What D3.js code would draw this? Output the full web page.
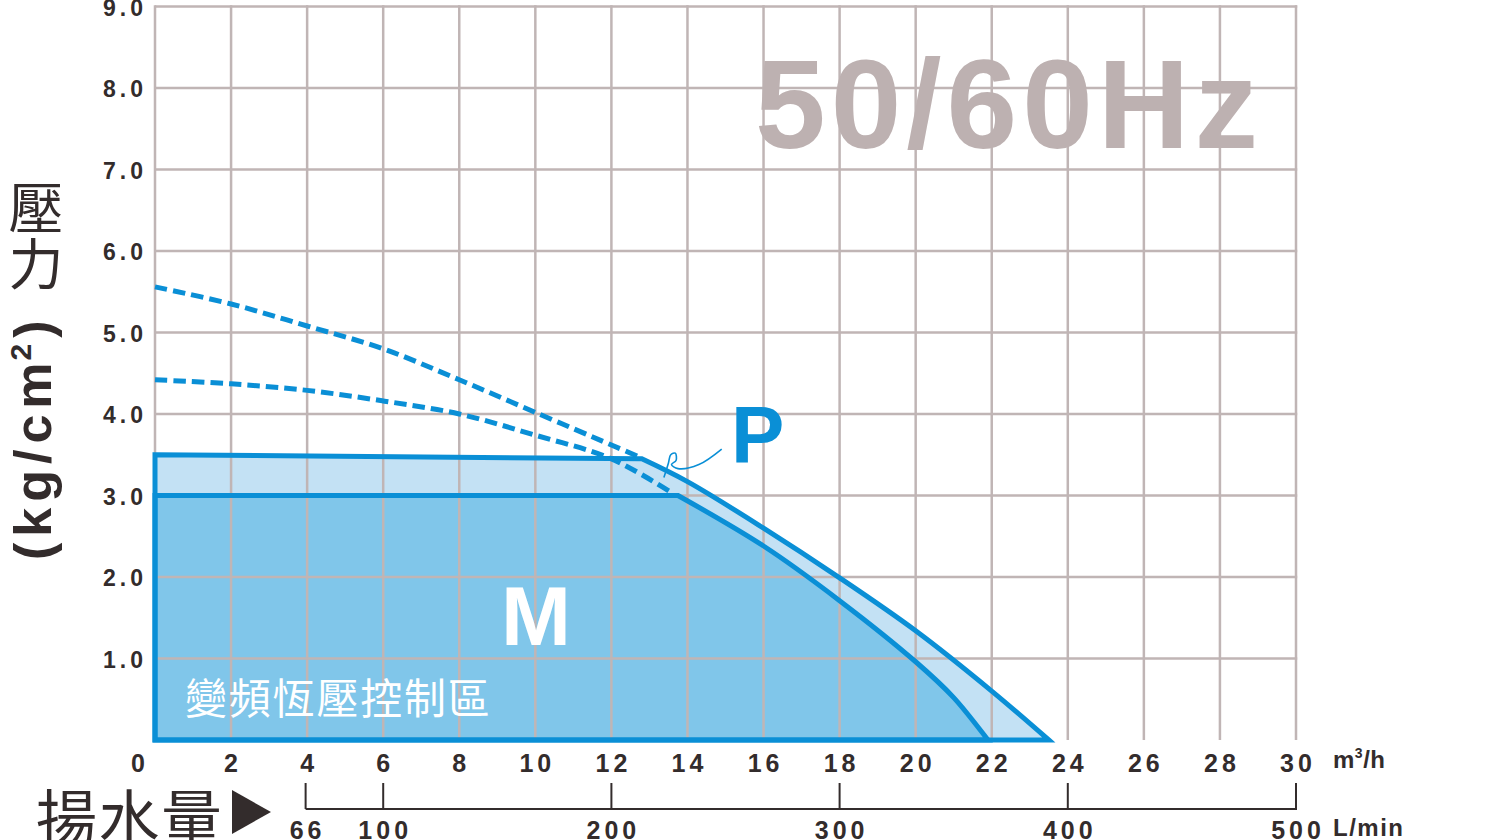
<!DOCTYPE html>
<html>
<head>
<meta charset="utf-8">
<script src="https://cdn.jsdelivr.net/npm/d3@7"></script>
<style>
  body { margin:0; background:#fff; }
  svg { display:block; }
  .num { font-family:"Liberation Sans", Arial, sans-serif; font-weight:bold; fill:#332c2c; }
  .cjk { font-family:"Noto Sans CJK TC", "Noto Sans CJK SC", sans-serif; }
</style>
</head>
<body>
<script>
// axis ticks
var flowTicks = [0, 2, 4, 6, 8, 10, 12, 14, 16, 18, 20, 22, 24, 26, 28, 30];
var pressureTicks = [1, 2, 3, 4, 5, 6, 7, 8, 9];
var pressureLabels = ["1.0", "2.0", "3.0", "4.0", "5.0", "6.0", "7.0", "8.0", "9.0"];
var lpmTicks = [66, 100, 200, 300, 400, 500];

// pump curves [m3/h, kg/cm2]
var curveP = [[0, 3.5], [12.8, 3.45], [14, 3.17], [16, 2.6], [18, 1.99], [20, 1.34], [22, 0.6], [23.5, 0]];
var curveM = [[0, 3.0], [13.75, 3.0], [16, 2.38], [18, 1.71], [20, 0.96], [21, 0.52], [21.9, 0]];
var dashHigh = [[0, 5.56], [2, 5.35], [4, 5.08], [6, 4.8], [8, 4.42], [10, 4.02], [12, 3.62], [12.8, 3.46]];
var dashLow = [[0, 4.42], [2, 4.37], [4, 4.29], [6, 4.16], [8, 4.0], [10, 3.74], [12, 3.45], [13.6, 3.03]];
// little leader from the P curve to its label
var leaderP = [[13.38, 3.22], [13.5, 3.4], [13.56, 3.5], [13.68, 3.52], [13.7, 3.43], [13.58, 3.38], [13.75, 3.33], [14.3, 3.38], [14.9, 3.57]];

var width = 1501, height = 840;
var blue = "#0a8fd6";

var svg = d3.select("body").append("svg")
  .attr("width", width)
  .attr("height", height);

var x = d3.scaleLinear().domain([0, 30]).range([155, 1296]);
var y = d3.scaleLinear().domain([0, 9]).range([740, 6.5]);
var lpmToFlow = function(v) { return v * 0.06; };

var smooth = d3.line()
  .x(function(d) { return x(d[0]); })
  .y(function(d) { return y(d[1]); })
  .curve(d3.curveCatmullRom.alpha(0.5));

// flat part straight, then the bend is smoothed, closed along the axes
function regionPath(pts) {
  var bend = smooth(pts.slice(1));
  return "M" + x(pts[0][0]) + "," + y(pts[0][1]) + "L" + bend.slice(1) +
    "L" + x(0) + "," + y(0) + "Z";
}

// fills
svg.append("path").attr("d", regionPath(curveP)).attr("fill", "#c3e1f4");
svg.append("path").attr("d", regionPath(curveM)).attr("fill", "#80c6ea");

// grid over the fills
var grid = svg.append("g").attr("stroke", "#c0b5b5").attr("stroke-width", 2.5);
grid.selectAll("line.v")
  .data(flowTicks)
  .enter().append("line")
  .attr("class", "v")
  .attr("x1", function(d) { return x(d); })
  .attr("x2", function(d) { return x(d); })
  .attr("y1", y(0))
  .attr("y2", y(9) - 1.2);
grid.selectAll("line.h")
  .data(pressureTicks)
  .enter().append("line")
  .attr("class", "h")
  .attr("x1", x(0))
  .attr("x2", x(30) + 1.2)
  .attr("y1", function(d) { return y(d); })
  .attr("y2", function(d) { return y(d); });

// big watermark
svg.append("text")
  .attr("class", "num")
  .attr("x", 755)
  .attr("y", 148)
  .attr("font-size", 127)
  .attr("textLength", 503)
  .attr("lengthAdjust", "spacing")
  .style("fill", "#bdb1b1")
  .text("50/60Hz");

// outlines
svg.append("path").attr("d", regionPath(curveP))
  .attr("fill", "none").attr("stroke", blue).attr("stroke-width", 5);
svg.append("path").attr("d", regionPath(curveM))
  .attr("fill", "none").attr("stroke", blue).attr("stroke-width", 5);

[dashHigh, dashLow].forEach(function(pts) {
  svg.append("path")
    .attr("d", smooth(pts))
    .attr("fill", "none")
    .attr("stroke", blue)
    .attr("stroke-width", 5)
    .attr("stroke-dasharray", "12.5,6");
});

svg.append("path")
  .attr("d", smooth(leaderP))
  .attr("fill", "none")
  .attr("stroke", blue)
  .attr("stroke-width", 1.6);

// labels inside the chart
svg.append("text")
  .attr("class", "num")
  .attr("x", 731)
  .attr("y", 462)
  .attr("font-size", 80)
  .style("fill", blue)
  .text("P");

svg.append("text")
  .attr("class", "num")
  .attr("x", 536)
  .attr("y", 645)
  .attr("text-anchor", "middle")
  .attr("font-size", 84)
  .style("fill", "#fff")
  .text("M");

svg.append("text")
  .attr("class", "cjk")
  .attr("x", 185)
  .attr("y", 714)
  .attr("font-size", 42)
  .attr("letter-spacing", 1.8)
  .attr("fill", "#fff")
  .text("變頻恆壓控制區");

// y tick labels
svg.selectAll("text.ylab")
  .data(pressureTicks)
  .enter().append("text")
  .attr("class", "num ylab")
  .attr("x", 147)
  .attr("y", function(d) { return y(d) + 9; })
  .attr("text-anchor", "end")
  .attr("font-size", 23)
  .attr("letter-spacing", 4)
  .text(function(d, i) { return pressureLabels[i]; });

// x tick labels (m3/h)
svg.selectAll("text.xlab")
  .data(flowTicks)
  .enter().append("text")
  .attr("class", "num xlab")
  .attr("x", function(d) { return x(d) + 2 + (d === 0 ? -17 : 0); })
  .attr("y", 772)
  .attr("text-anchor", "middle")
  .attr("font-size", 25)
  .attr("letter-spacing", 4)
  .text(function(d) { return d; });

var unit1 = svg.append("text")
  .attr("class", "num")
  .attr("x", 1333)
  .attr("y", 768)
  .attr("font-size", 24)
  .attr("letter-spacing", 0.5);
unit1.append("tspan").text("m");
unit1.append("tspan").attr("dy", -10).attr("font-size", 14).text("3");
unit1.append("tspan").attr("dy", 10).text("/h");

// L/min axis
var lpm = svg.append("g").attr("stroke", "#332c2c").attr("stroke-width", 2);
lpm.append("line")
  .attr("x1", x(lpmToFlow(66)))
  .attr("x2", x(lpmToFlow(500)) + 1)
  .attr("y1", 809)
  .attr("y2", 809);
lpm.selectAll("line.t")
  .data(lpmTicks)
  .enter().append("line")
  .attr("class", "t")
  .attr("x1", function(d) { return x(lpmToFlow(d)); })
  .attr("x2", function(d) { return x(lpmToFlow(d)); })
  .attr("y1", 783)
  .attr("y2", 809);

svg.selectAll("text.lpm")
  .data(lpmTicks)
  .enter().append("text")
  .attr("class", "num lpm")
  .attr("x", function(d) { return x(lpmToFlow(d)) + 2; })
  .attr("y", 839)
  .attr("text-anchor", "middle")
  .attr("font-size", 25)
  .attr("letter-spacing", 4)
  .text(function(d) { return d; });

svg.append("text")
  .attr("class", "num")
  .attr("x", 1333)
  .attr("y", 836)
  .attr("font-size", 24)
  .attr("letter-spacing", 1.5)
  .text("L/min");

// axis titles
svg.append("text")
  .attr("class", "cjk")
  .attr("x", 36)
  .attr("y", 841)
  .attr("font-size", 61)
  .attr("letter-spacing", 1.5)
  .attr("fill", "#332c2c")
  .text("揚水量");

svg.append("path")
  .attr("d", "M232,790L271,812L232,834Z")
  .attr("fill", "#332c2c");

["壓", "力"].forEach(function(ch, i) {
  svg.append("text")
    .attr("class", "cjk")
    .attr("x", 36)
    .attr("y", 204 + i * 56)
    .attr("text-anchor", "middle")
    .attr("dominant-baseline", "central")
    .attr("font-size", 55)
    .attr("fill", "#332c2c")
    .text(ch);
});

var yTitle = svg.append("text")
  .attr("class", "num")
  .attr("transform", "translate(51,560) rotate(-90)")
  .attr("font-size", 52)
  .attr("letter-spacing", 6);
yTitle.append("tspan").text("(kg/cm");
yTitle.append("tspan").attr("dx", -4).attr("dy", -20).attr("font-size", 30).text("2");
yTitle.append("tspan").attr("dy", 20).text(")");
</script>
</body>
</html>
